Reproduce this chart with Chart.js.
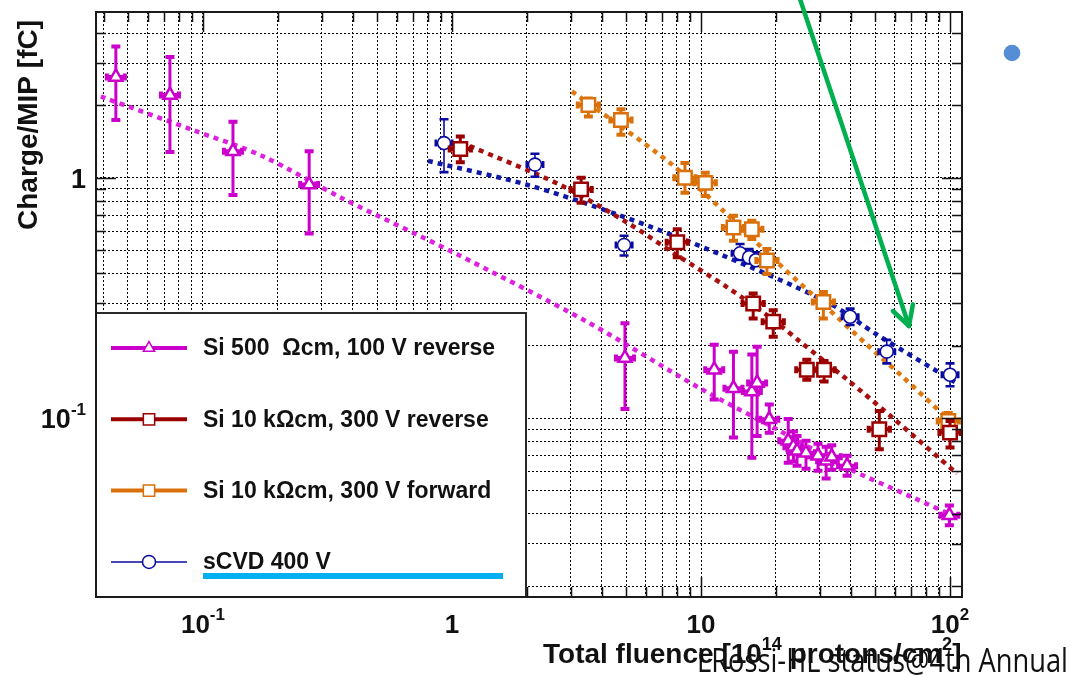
<!DOCTYPE html>
<html>
<head>
<meta charset="utf-8">
<script src="https://cdn.jsdelivr.net/npm/chart.js@4.4.1/dist/chart.umd.min.js"></script>
<style>
  html, body { margin: 0; padding: 0; background: #ffffff; }
  canvas { display: block; }
</style>
</head>
<body>
<canvas id="c" width="1072" height="675"></canvas>
<script>
// ---- axes -------------------------------------------------------------
const xRange = [0.0372, 111.7];
const yRange = [0.018, 4.9];
const xGridValues = [0.04, 0.05, 0.06, 0.07, 0.08, 0.09,
  0.1, 0.2, 0.3, 0.4, 0.5, 0.6, 0.7, 0.8, 0.9,
  1, 2, 3, 4, 5, 6, 7, 8, 9,
  10, 20, 30, 40, 50, 60, 70, 80, 90, 100];
const yGridValues = [0.02, 0.03, 0.04, 0.05, 0.06, 0.07, 0.08, 0.09,
  0.1, 0.2, 0.3, 0.4, 0.5, 0.6, 0.7, 0.8, 0.9, 1, 2, 3, 4];
const xTickValues = [0.1, 1, 10, 100];
const xTickLabels = ['10^{-1}', '1', '10', '10^{2}'];
const yTickValues = [0.1, 1];
const yTickLabels = ['10^{-1}', '1'];
const xTitle = 'Total fluence [10^{14} protons/cm^{2}]';
const yTitle = 'Charge/MIP [fC]';
const footerText = 'LRossi-HL status@4th Annual';

// ---- series labels ----------------------------------------------------
const seriesLabels = ['Si 500  \u03A9cm, 100 V reverse', 'Si 10 k\u03A9cm, 300 V reverse',
  'Si 10 k\u03A9cm, 300 V forward', 'sCVD 400 V'];

// ---- Si 500 Ohm cm, 100 V reverse ------------------------------------
const siLowX  = [0.0447, 0.0737, 0.132, 0.267, 4.95, 11.3, 13.5, 16.0, 16.8, 18.8, 22.4, 23.5, 24.3, 26.4, 29.5, 31.8, 33.5, 38.6, 99.4];
const siLowY  = [2.63, 2.21, 1.29, 0.938, 0.178, 0.159, 0.133, 0.129, 0.140, 0.0988, 0.0804, 0.0760, 0.0731, 0.0717, 0.0697, 0.0665, 0.0690, 0.0634, 0.0394];
const siLowHi = [3.52, 3.18, 1.71, 1.29, 0.248, 0.202, 0.189, 0.184, 0.198, 0.114, 0.099, 0.088, 0.0843, 0.0804, 0.0781, 0.0759, 0.0770, 0.0697, 0.0433];
const siLowLo = [1.74, 1.28, 0.848, 0.587, 0.109, 0.1195, 0.083, 0.0684, 0.0843, 0.0869, 0.0652, 0.066, 0.0633, 0.0615, 0.0604, 0.056, 0.061, 0.0576, 0.0358];
const siLowFitX = [0.0389, 0.0912, 0.174, 0.365, 1.01, 3.48, 9.91, 20.8, 38.6, 71.0, 106.7];
const siLowFitY = [2.18, 1.58, 1.23, 0.819, 0.490, 0.252, 0.133, 0.0883, 0.0621, 0.0467, 0.0386];

// ---- Si 10 kOhm cm, 300 V reverse ------------------------------------
const siRevX  = [1.08, 3.30, 8.03, 16.2, 19.5, 26.6, 31.2, 52.0, 100];
const siRevY  = [1.318, 0.895, 0.539, 0.300, 0.252, 0.159, 0.159, 0.0898, 0.087];
const siRevHi = [1.487, 1.0, 0.611, 0.330, 0.281, 0.175, 0.173, 0.107, 0.0972];
const siRevLo = [1.16, 0.788, 0.467, 0.26, 0.218, 0.1445, 0.142, 0.0742, 0.0754];
const siRevFitX = [1.18, 2.71, 5.04, 8.01, 12.7, 19.5, 25.0, 38.5, 59.0, 106.7];
const siRevFitY = [1.356, 0.936, 0.652, 0.476, 0.351, 0.2566, 0.208, 0.145, 0.100, 0.0587];

// ---- Si 10 kOhm cm, 300 V forward ------------------------------------
const siFwdX  = [3.53, 4.77, 8.62, 10.4, 13.5, 16.0, 18.4, 31.0, 98.4];
const siFwdY  = [2.01, 1.74, 1.0, 0.953, 0.621, 0.611, 0.453, 0.304, 0.0972];
const siFwdHi = [2.14, 1.93, 1.153, 1.05, 0.695, 0.662, 0.506, 0.335, 0.105];
const siFwdLo = [1.80, 1.51, 0.867, 0.840, 0.547, 0.556, 0.398, 0.26, 0.0884];
const siFwdFitX = [3.03, 7.51, 12.25, 20.8, 32.1, 46.4, 63.0, 97.2];
const siFwdFitY = [2.29, 1.153, 0.731, 0.433, 0.2875, 0.202, 0.152, 0.100];

// ---- sCVD diamond, 400 V ---------------------------------------------
const cvdX  = [0.929, 2.154, 4.91, 14.35, 15.6, 16.6, 39.7, 55.7, 100];
const cvdY  = [1.395, 1.135, 0.525, 0.485, 0.467, 0.454, 0.264, 0.189, 0.1515];
const cvdHi = [1.754, 1.26, 0.574, 0.530, 0.505, 0.49, 0.2856, 0.2115, 0.169];
const cvdLo = [1.056, 1.01, 0.475, 0.455, 0.44, 0.43, 0.244, 0.169, 0.1356];
const cvdFitX = [0.801, 2.0, 4.73, 11.9, 32.1, 50.9, 106.7];
const cvdFitY = [1.176, 0.936, 0.697, 0.481, 0.304, 0.2224, 0.1395];

// ---- styling ----------------------------------------------------------
const colMag = '#cc00cc', colRed = '#9a0000', colOra = '#d9700a', colBlue = '#0a0aa0';
const fitMag = '#dd22dd', fitRed = '#a81010', fitOra = '#e07a10', fitBlue = '#1018a8';
const SANS = "'Liberation Sans', Arial, Helvetica, sans-serif";

const pts = (xs, ys) => xs.map((v, i) => ({ x: v, y: ys[i] }));

function fitSet(xs, ys, color) {
  return { type: 'line', data: pts(xs, ys), borderColor: color, borderWidth: 4.5,
    borderDash: [5, 5], pointRadius: 0, tension: 0.3, fill: false, order: 2 };
}
function markSet(label, xs, ys, hi, lo, color, style, r, bw, ew) {
  return { type: 'scatter', label, data: pts(xs, ys), pointStyle: style, pointRadius: r,
    pointHoverRadius: r, pointBorderWidth: bw, pointBackgroundColor: '#ffffff',
    pointBorderColor: color, errHi: hi, errLo: lo, errWidth: ew, order: 1 };
}

const markers = [
  { style: 'triangle', color: colMag, line: 4 },
  { style: 'rect', color: colRed, line: 4 },
  { style: 'rect', color: colOra, line: 4 },
  { style: 'circle', color: colBlue, line: 1.5 }
];

function parseRich(s) {
  const out = []; const re = /\^\{([^}]*)\}/g; let last = 0, m;
  while ((m = re.exec(s))) {
    if (m.index > last) out.push({ t: s.slice(last, m.index), sup: false });
    out.push({ t: m[1], sup: true }); last = re.lastIndex;
  }
  if (last < s.length) out.push({ t: s.slice(last), sup: false });
  return out;
}
function richWidth(ctx, segs, f, fs) {
  let w = 0;
  segs.forEach(s => { ctx.font = s.sup ? fs : f; w += ctx.measureText(s.t).width; });
  return w;
}
function drawRich(ctx, segs, x, base, f, fs, rise) {
  ctx.textAlign = 'left'; ctx.textBaseline = 'alphabetic';
  segs.forEach(s => {
    ctx.font = s.sup ? fs : f;
    ctx.fillText(s.t, x, s.sup ? base - rise : base);
    x += ctx.measureText(s.t).width;
  });
}
function drawMarker(ctx, style, x, y, r) {
  ctx.beginPath();
  if (style === 'triangle') {
    ctx.moveTo(x, y - r); ctx.lineTo(x + r * 0.866, y + r * 0.5); ctx.lineTo(x - r * 0.866, y + r * 0.5); ctx.closePath();
  } else if (style === 'rect') {
    ctx.rect(x - r * 0.707, y - r * 0.707, r * 1.414, r * 1.414);
  } else {
    ctx.arc(x, y, r, 0, Math.PI * 2);
  }
  ctx.fill(); ctx.stroke();
}

const decor = {
  id: 'decor',
  beforeDatasetDraw(chart, args) {
    const ds = chart.data.datasets[args.index];
    if (!ds.errHi) return;
    const { ctx, scales: { x, y } } = chart;
    ctx.save();
    ctx.strokeStyle = ds.pointBorderColor;
    ctx.lineCap = 'butt';
    const ear = ds.pointRadius * 0.8 + 3;
    ds.data.forEach((p, i) => {
      const px = x.getPixelForValue(p.x), py = y.getPixelForValue(p.y);
      const yh = y.getPixelForValue(ds.errHi[i]), yl = y.getPixelForValue(ds.errLo[i]);
      ctx.lineWidth = ds.errWidth;
      ctx.beginPath(); ctx.moveTo(px, yh); ctx.lineTo(px, yl); ctx.stroke();
      ctx.lineWidth = ds.errWidth + 1;
      ctx.beginPath();
      ctx.moveTo(px - 4.5, yh); ctx.lineTo(px + 4.5, yh);
      ctx.moveTo(px - 4.5, yl); ctx.lineTo(px + 4.5, yl);
      // short horizontal stubs with end caps beside each marker
      ctx.moveTo(px - ear, py); ctx.lineTo(px + ear, py);
      ctx.moveTo(px - ear, py - 3.5); ctx.lineTo(px - ear, py + 3.5);
      ctx.moveTo(px + ear, py - 3.5); ctx.lineTo(px + ear, py + 3.5);
      ctx.stroke();
    });
    ctx.restore();
  },
  afterDraw(chart) {
    const { ctx, chartArea: a, scales: { x, y } } = chart;
    ctx.save();
    // tick marks inside the frame
    ctx.strokeStyle = '#111'; ctx.lineWidth = 1.5;
    ctx.beginPath();
    xGridValues.forEach(v => {
      const px = Math.round(x.getPixelForValue(v)) + 0.5;
      const len = xTickValues.includes(v) ? 20 : 10;
      ctx.moveTo(px, a.bottom); ctx.lineTo(px, a.bottom - len);
      ctx.moveTo(px, a.top); ctx.lineTo(px, a.top + len);
    });
    yGridValues.forEach(v => {
      const py = Math.round(y.getPixelForValue(v)) + 0.5;
      const len = yTickValues.includes(v) ? 20 : 10;
      ctx.moveTo(a.left, py); ctx.lineTo(a.left + len, py);
      ctx.moveTo(a.right, py); ctx.lineTo(a.right - len, py);
    });
    ctx.stroke();

    // legend box
    const lx = a.left, ly = 313, lw = 430, lh = a.bottom - 313;
    ctx.fillStyle = '#fff'; ctx.fillRect(lx, ly, lw, lh);
    ctx.strokeStyle = '#2a2a2a'; ctx.lineWidth = 2; ctx.strokeRect(lx, ly, lw, lh);
    seriesLabels.forEach((lab, i) => {
      const m = markers[i];
      const cy = ly + 35 + i * 71.3;
      ctx.strokeStyle = m.color; ctx.lineWidth = m.line;
      ctx.beginPath(); ctx.moveTo(lx + 15, cy); ctx.lineTo(lx + 91, cy); ctx.stroke();
      ctx.fillStyle = '#fff'; ctx.lineWidth = 1.5;
      drawMarker(ctx, m.style, lx + 53, cy, m.style === 'rect' ? 8 : 6.5);
      ctx.fillStyle = '#111'; ctx.font = 'bold 23px ' + SANS;
      ctx.textAlign = 'left'; ctx.textBaseline = 'middle';
      ctx.fillText(lab, lx + 107, cy + 1);
    });
    ctx.fillStyle = '#00b0f0';
    ctx.fillRect(lx + 107, 573, 300, 6);

    // plot frame
    ctx.strokeStyle = '#1a1a1a'; ctx.lineWidth = 2;
    ctx.strokeRect(a.left, a.top, a.right - a.left, a.bottom - a.top);

    // tick labels
    ctx.fillStyle = '#111';
    const fx = 'bold 26px ' + SANS, fxs = 'bold 17px ' + SANS;
    xTickValues.forEach((v, i) => {
      const segs = parseRich(xTickLabels[i]);
      const w = richWidth(ctx, segs, fx, fxs);
      drawRich(ctx, segs, x.getPixelForValue(v) - w / 2, 633, fx, fxs, 13);
    });
    const fy = 'bold 27px ' + SANS, fys = 'bold 17px ' + SANS;
    yTickValues.forEach((v, i) => {
      const segs = parseRich(yTickLabels[i]);
      const w = richWidth(ctx, segs, fy, fys);
      drawRich(ctx, segs, 86 - w, y.getPixelForValue(v) + 10, fy, fys, 13);
    });

    // axis titles
    const tf = 'bold 28px ' + SANS, tfs = 'bold 18px ' + SANS;
    drawRich(ctx, parseRich(xTitle), 543, 663, tf, tfs, 13);
    ctx.save();
    ctx.translate(37, 125); ctx.rotate(-Math.PI / 2);
    ctx.font = 'bold 28px ' + SANS; ctx.textAlign = 'center'; ctx.textBaseline = 'alphabetic';
    ctx.fillText(yTitle, 0, 0);
    ctx.restore();

    // annotation arrow
    const tip = [909, 326], tail = [799, -4];
    ctx.strokeStyle = '#00b050'; ctx.lineWidth = 4.5; ctx.lineCap = 'round'; ctx.lineJoin = 'round';
    ctx.beginPath(); ctx.moveTo(tail[0], tail[1]); ctx.lineTo(tip[0], tip[1]); ctx.stroke();
    const ang = Math.atan2(tail[1] - tip[1], tail[0] - tip[0]);
    ctx.beginPath();
    [0.5, -0.5].forEach(d => {
      ctx.moveTo(tip[0], tip[1]);
      ctx.lineTo(tip[0] + 22 * Math.cos(ang + d), tip[1] + 22 * Math.sin(ang + d));
    });
    ctx.stroke();

    // slide bullet
    ctx.fillStyle = '#558ed5';
    ctx.beginPath(); ctx.arc(1012, 53, 8.3, 0, Math.PI * 2); ctx.fill();

    // footer
    ctx.fillStyle = '#111';
    ctx.font = "32px 'Open Sans', 'Noto Sans', sans-serif";
    const fw = ctx.measureText(footerText).width;
    ctx.save();
    ctx.translate(697, 672); ctx.scale(371 / fw, 1);
    ctx.textAlign = 'left'; ctx.textBaseline = 'alphabetic';
    ctx.fillText(footerText, 0, 0);
    ctx.restore();
    ctx.restore();
  }
};

const gridStyle = { color: '#000000', lineWidth: 1, drawTicks: false };
const borderStyle = { display: false, dash: [2, 2] };

new Chart(document.getElementById('c'), {
  type: 'scatter',
  data: {
    datasets: [
      fitSet(siLowFitX, siLowFitY, fitMag),
      fitSet(siRevFitX, siRevFitY, fitRed),
      fitSet(siFwdFitX, siFwdFitY, fitOra),
      fitSet(cvdFitX, cvdFitY, fitBlue),
      markSet(seriesLabels[0], siLowX, siLowY, siLowHi, siLowLo, colMag, 'triangle', 7.5, 2.5, 3),
      markSet(seriesLabels[1], siRevX, siRevY, siRevHi, siRevLo, colRed, 'rect', 9.5, 2.5, 3),
      markSet(seriesLabels[2], siFwdX, siFwdY, siFwdHi, siFwdLo, colOra, 'rect', 9.5, 2.5, 3),
      markSet(seriesLabels[3], cvdX, cvdY, cvdHi, cvdLo, colBlue, 'circle', 6.5, 1.6, 1.6)
    ]
  },
  options: {
    responsive: false,
    animation: false,
    devicePixelRatio: 1,
    layout: { padding: { top: 8, right: 110, left: 0, bottom: 0 } },
    plugins: { legend: { display: false }, title: { display: false }, tooltip: { enabled: false } },
    scales: {
      x: {
        type: 'logarithmic', min: xRange[0], max: xRange[1],
        afterBuildTicks: s => { s.ticks = xGridValues.map(v => ({ value: v })); },
        afterFit: s => { s.height = 78; },
        ticks: { display: false, autoSkip: false },
        grid: gridStyle, border: borderStyle
      },
      y: {
        type: 'logarithmic', min: yRange[0], max: yRange[1],
        afterBuildTicks: s => { s.ticks = yGridValues.map(v => ({ value: v })); },
        afterFit: s => { s.width = 96; },
        ticks: { display: false, autoSkip: false },
        grid: gridStyle, border: borderStyle
      }
    }
  },
  plugins: [decor]
});
</script>
</body>
</html>
